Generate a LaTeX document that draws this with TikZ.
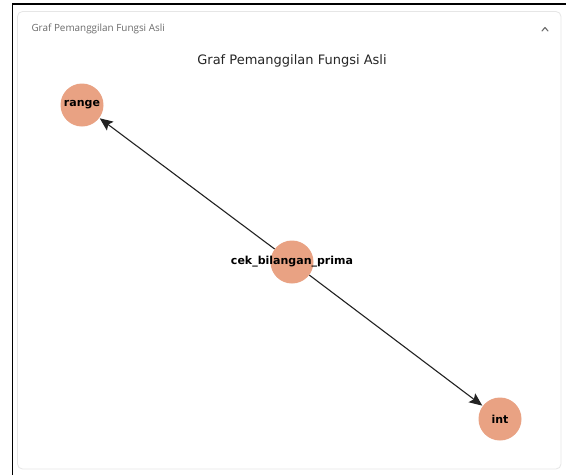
\documentclass[tikz,border=0pt]{standalone}
\usepackage{fontspec}
\setmainfont{DejaVu Sans}
\newfontfamily\uifont{Open Sans}
\usetikzlibrary{arrows.meta}
\definecolor{nodefill}{HTML}{E9A283}
\definecolor{cardline}{HTML}{E6E6E6}
\definecolor{uigray}{HTML}{6B6B6B}
\definecolor{titlegray}{HTML}{262626}
\definecolor{edgegray}{HTML}{222222}
\begin{document}
\begin{tikzpicture}[x=1pt,y=-1pt,
  fn/.style={circle,fill=nodefill,minimum size=43pt,inner sep=0pt},
  fnlabel/.style={font=\bfseries\fontsize{11}{13}\selectfont,text=black},
  call/.style={draw=edgegray,line width=1.1pt,-{Stealth[length=13pt,width=11pt,inset=2.5pt]},shorten >=0.5pt}
]
\useasboundingbox (0,0) rectangle (566,475);
\fill[white] (0,0) rectangle (566,475);
% outer frame edges
\draw[black,line width=1.6pt] (12.5,475) -- (12.5,4) -- (566,4);
% card
\draw[cardline,line width=0.8pt,rounded corners=5pt] (17.5,11.5) rectangle (561,469);
\node[anchor=west,text=uigray,font=\uifont\fontsize{9.9}{11}\selectfont] (hdr) at (28,29) {Graf Pemanggilan Fungsi Asli};
% collapse chevron
\coordinate (caret) at (545,29);
\draw[uigray,line width=1.1pt,line cap=round,line join=round] ([shift={(-3,2)}]caret) -- ([shift={(0,-1.5)}]caret) -- ([shift={(3,2)}]caret);
\node[text=titlegray,font=\fontsize{13}{15}\selectfont] (title) at (292,61) {Graf Pemanggilan Fungsi Asli};
% nodes
\node[fn] (range) at (82,105) {};
\node[fn] (cek) at (292,262) {};
\node[fn] (int) at (500,419) {};
% edges
\draw[call] (cek) -- (range);
\draw[call] (cek) -- (int);
% labels on top
\node[fnlabel] at (range) {range};
\node[fnlabel] at (cek) {cek\_bilangan\_prima};
\node[fnlabel] at (int) {int};
\end{tikzpicture}
\end{document}
